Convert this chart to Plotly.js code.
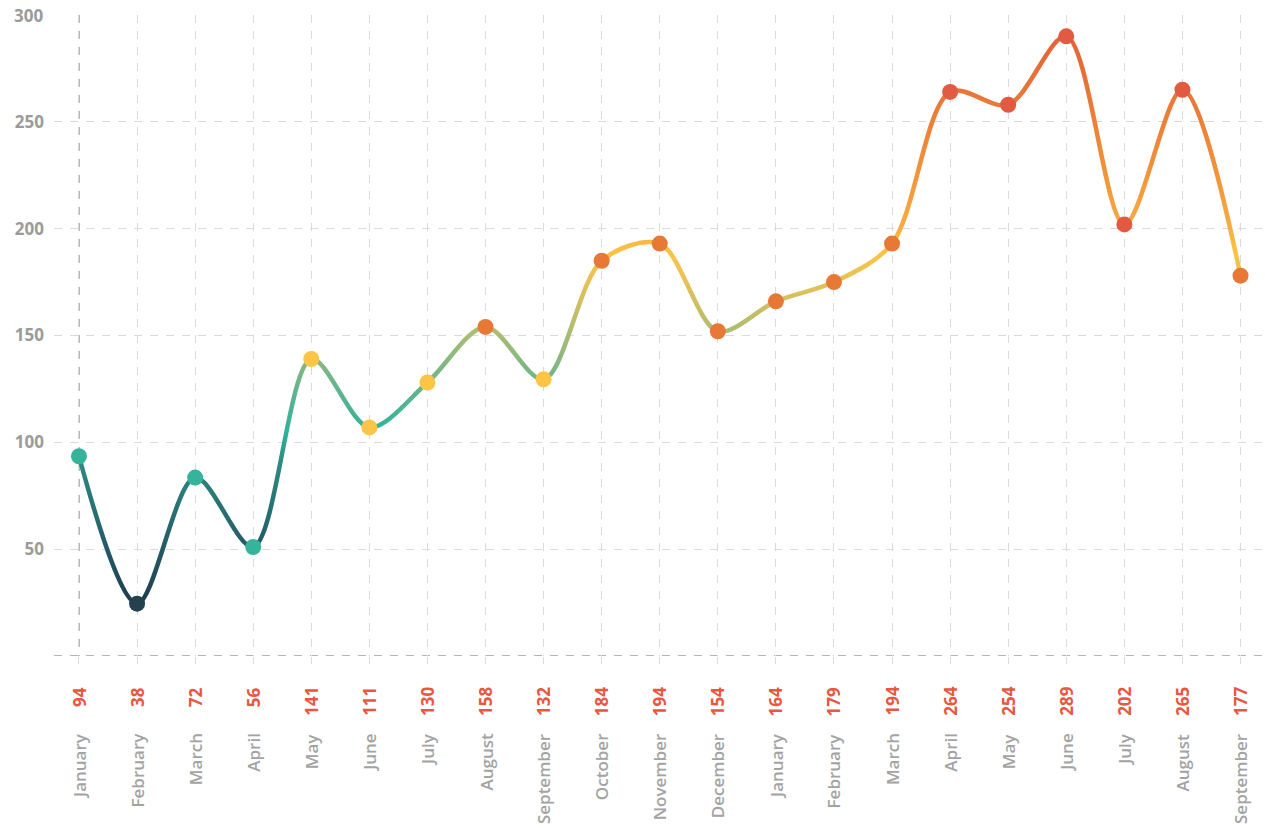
<!DOCTYPE html>
<html><head><meta charset="utf-8">
<script src="https://cdn.plot.ly/plotly-3.0.1.min.js"></script>
<style>html,body{margin:0;padding:0;background:#fff}#chart{width:1265px;height:828px}</style>
</head><body><div id="chart"></div>
<script>
const months = ["January","February","March","April","May","June","July","August","September","October","November","December",
                "January","February","March","April","May","June","July","August","September"];
const labelValues = [94,38,72,56,141,111,130,158,132,184,194,154,164,179,194,264,254,289,202,265,177];
const plotValues = [93.5,24.5,83.5,51,139,107,128,154,129.5,185,193,152,166,175,193,264,258,290,202,265,178];
const yTickVals = [50,100,150,200,250,300];

const idx = months.map((m,i)=>i);
function markerColor(v){
  if(v < 50) return '#23414f';
  if(v < 100) return '#35b49b';
  if(v < 150) return '#fcc546';
  if(v < 200) return '#e77835';
  return '#e35a43';
}
const gridDash = '8px,8px';
const annotations = [];
idx.forEach(i=>{
  annotations.push({x:i, xref:'x', y:0, yref:'paper', yanchor:'top', xanchor:'center', yshift:-29,
    textangle:-90, showarrow:false, text:String(labelValues[i]),
    font:{family:'Open Sans', size:17, weight:700, color:'#e8573f'}});
  annotations.push({x:i, xref:'x', y:0, yref:'paper', yanchor:'top', xanchor:'center', yshift:-75,
    textangle:-90, showarrow:false, text:months[i],
    font:{family:'Open Sans', size:17, weight:600, color:'#a3a3a3'}});
});
// top tick label without gridline
annotations.push({x:0, xref:'paper', xanchor:'right', xshift:-9, y:yTickVals[5], yref:'y', yanchor:'middle',
  showarrow:false, text:String(yTickVals[5]), font:{family:'Open Sans', size:17, weight:700, color:'#9b9b9b'}});

const trace = {
  x: idx, y: plotValues, type:'scatter', mode:'lines+markers',
  line:{shape:'spline', smoothing:0.9, width:4.5, color:'#f0913a'},
  marker:{size:16, color: plotValues.map(markerColor), line:{width:0}},
  hoverinfo:'skip', cliponaxis:false
};
const layout = {
  width:1265, height:828,
  margin:{l:54, r:3, t:15, b:172},
  paper_bgcolor:'#fff', plot_bgcolor:'#fff',
  showlegend:false,
  xaxis:{range:[-0.43,20.37], tickvals:idx, ticktext:idx.map(()=>''), showgrid:true, gridcolor:'#dadada', griddash:gridDash, gridwidth:1,
         ticks:'outside', ticklen:7, tickcolor:'#dadada', zeroline:false, showline:false, fixedrange:true},
  yaxis:{range:[0,300], tickvals:yTickVals.slice(0,5), showgrid:true, gridcolor:'#dadada', griddash:gridDash, gridwidth:1,
         zeroline:false, showline:false, ticks:'', ticklabelstandoff:9,
         tickfont:{family:'Open Sans', size:17, weight:700, color:'#9b9b9b'}},
  shapes:[
    {type:'line', xref:'x', x0:0, x1:0, yref:'paper', y0:1, y1:0, line:{color:'#9a9a9a', width:1.5, dash:gridDash}, layer:'between'},
    {type:'line', xref:'paper', x0:0, x1:1, yref:'y', y0:0, y1:0, line:{color:'#9a9a9a', width:1.5, dash:gridDash}, layer:'between'}
  ],
  annotations: annotations
};
const gd = document.getElementById('chart');
Plotly.newPlot(gd, [trace], layout, {displayModeBar:false, staticPlot:true}).then(()=>{
  const ya = gd._fullLayout.yaxis;
  const svg = gd.querySelector('svg.main-svg');
  let defs = svg.querySelector('defs');
  const NS = 'http://www.w3.org/2000/svg';
  const grad = document.createElementNS(NS,'linearGradient');
  grad.setAttribute('id','lineGrad');
  grad.setAttribute('gradientUnits','userSpaceOnUse');
  grad.setAttribute('x1','0'); grad.setAttribute('x2','0');
  const vTop = 295, vBot = 20;
  grad.setAttribute('y1', ya.l2p(vBot)); grad.setAttribute('y2', ya.l2p(vTop));
  const stops = [[25,'#1f3d4f'],[55,'#24606a'],[90,'#2d8a82'],[105,'#2fb39a'],[125,'#62b48e'],[150,'#a9bc73'],[172,'#e0c05b'],[188,'#fbc445'],[202,'#f6aa40'],[230,'#f0903a'],[260,'#e97937'],[292,'#e4613c']];
  stops.forEach(([v,c])=>{
    const s = document.createElementNS(NS,'stop');
    s.setAttribute('offset', ((v - vBot)/(vTop - vBot)).toFixed(4));
    s.setAttribute('stop-color', c);
    grad.appendChild(s);
  });
  defs.appendChild(grad);
  gd.querySelectorAll('.scatterlayer .trace path.js-line').forEach(p=>{ p.style.stroke = 'url(#lineGrad)'; });
});
</script>
</body></html>
